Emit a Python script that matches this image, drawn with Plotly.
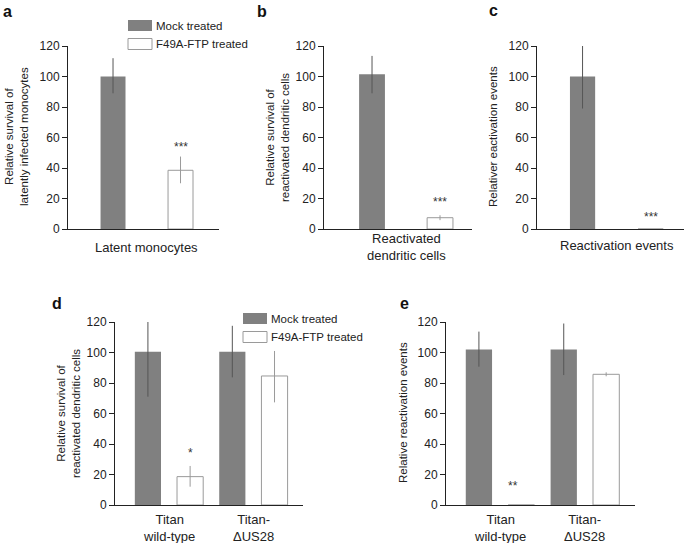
import plotly.graph_objects as go

W, H = 685, 543

series_names = ["Mock treated", "F49A-FTP treated"]

# panel a
cats_a = ["Latent monocytes"]
mock_a = [100]
mock_a_plus = [12]
mock_a_minus = [11]
ftp_a = [38.5]
ftp_a_plus = [9]
ftp_a_minus = [8.5]
sig_a = ["***"]

# panel b
cats_b = ["Reactivated<br>dendritic cells"]
mock_b = [101.5]
mock_b_plus = [12]
mock_b_minus = [12.5]
ftp_b = [7.4]
ftp_b_plus = [1.6]
ftp_b_minus = [1.6]
sig_b = ["***"]

# panel c
cats_c = ["Reactivation events"]
mock_c = [100]
mock_c_plus = [20]
mock_c_minus = [21]
ftp_c = [0]
ftp_c_plus = [0]
ftp_c_minus = [0]
sig_c = ["***"]

# panel d
cats_d = ["Titan<br>wild-type", "Titan-<br>ΔUS28"]
mock_d = [100.5, 100.5]
mock_d_plus = [19.7, 17]
mock_d_minus = [29.5, 16.8]
ftp_d = [18.6, 84.6]
ftp_d_plus = [7, 16.4]
ftp_d_minus = [6.6, 17.3]
sig_d = ["*", ""]

# panel e
cats_e = ["Titan<br>wild-type", "Titan-<br>ΔUS28"]
mock_e = [102, 102]
mock_e_plus = [11.7, 17]
mock_e_minus = [11.3, 16.8]
ftp_e = [0, 85.7]
ftp_e_plus = [0, 1.3]
ftp_e_minus = [0, 1.3]
sig_e = ["**", ""]

y_ticks = [0, 20, 40, 60, 80, 100, 120]

FONT = "Liberation Sans, Arial, Helvetica, sans-serif"
TXT = "#222222"
MOCK_FILL = "#808080"
MOCK_ERR = "#555555"
FTP_LINE = "#9a9a9a"


def px(x):
    return x / W


def py(y):
    return 1 - y / H


fig = go.Figure()

panels = [
    dict(ax="", cats=cats_a, mock=(mock_a, mock_a_plus, mock_a_minus),
         ftp=(ftp_a, ftp_a_plus, ftp_a_minus), sig=sig_a, sig_y=[54],
         xd=(68, 219), yd=(229, 46), xr=(-0.667, 1.57), bw=0.37, step=1, caty=247,
         title="Relative survival of<br>latently infected monocytes", tpos=(16, 137),
         label="a", lpos=(8, 12)),
    dict(ax="2", cats=cats_b, mock=(mock_b, mock_b_plus, mock_b_minus),
         ftp=(ftp_b, ftp_b_plus, ftp_b_minus), sig=sig_b, sig_y=[17.7],
         xd=(324, 472), yd=(229, 46), xr=(-0.706, 1.47), bw=0.38, step=1, caty=246.5,
         title="Relative survival of<br>reactivated dendritic cells", tpos=(277, 138),
         label="b", lpos=(262, 12)),
    dict(ax="3", cats=cats_c, mock=(mock_c, mock_c_plus, mock_c_minus),
         ftp=(ftp_c, ftp_c_plus, ftp_c_minus), sig=sig_c, sig_y=[7.9],
         xd=(537, 684), yd=(229, 46), xr=(-0.669, 1.49), bw=0.37, step=1, caty=246,
         title="Relativer eactivation events", tpos=(493, 137),
         label="c", lpos=(493, 11)),
    dict(ax="4", cats=cats_d, mock=(mock_d, mock_d_plus, mock_d_minus),
         ftp=(ftp_d, ftp_d_plus, ftp_d_minus), sig=sig_d, sig_y=[34, 0],
         xd=(115, 303), yd=(505, 322), xr=(-0.78, 3.675), bw=0.62, step=2, caty=527.5,
         title="Relative survival of<br>reactivated dendritic cells", tpos=(68, 414),
         label="d", lpos=(57, 303)),
    dict(ax="5", cats=cats_e, mock=(mock_e, mock_e_plus, mock_e_minus),
         ftp=(ftp_e, ftp_e_plus, ftp_e_minus), sig=sig_e, sig_y=[12.5, 0],
         xd=(446, 635), yd=(505, 322), xr=(-0.776, 3.68), bw=0.62, step=2, caty=527.5,
         title="Relative reactivation events", tpos=(403, 413),
         label="e", lpos=(404, 303)),
]

layout = dict(width=W, height=H, margin=dict(l=0, r=0, t=0, b=0, autoexpand=False),
              plot_bgcolor="white", paper_bgcolor="white", showlegend=False,
              font=dict(family=FONT, size=12, color=TXT), barmode="overlay")
annotations = []
shapes = []


def note(**kw):
    base = dict(showarrow=False, xanchor="center", yanchor="middle")
    base.update(kw)
    annotations.append(base)


for p in panels:
    a = p["ax"]
    n = len(p["cats"])
    xm = [i * p["step"] for i in range(n)]
    xf = [i * p["step"] + 1 for i in range(n)]
    vals, plus, minus = p["mock"]
    fig.add_trace(go.Bar(x=xm, y=vals, width=p["bw"], name=series_names[0],
                         marker=dict(color=MOCK_FILL, line=dict(width=0)),
                         error_y=dict(type="data", symmetric=False, array=plus,
                                      arrayminus=minus, color=MOCK_ERR,
                                      thickness=1, width=0),
                         xaxis="x" + a, yaxis="y" + a))
    vals, plus, minus = p["ftp"]
    fig.add_trace(go.Bar(x=xf, y=vals, width=p["bw"], name=series_names[1],
                         marker=dict(color="white", line=dict(width=1, color=FTP_LINE)),
                         error_y=dict(type="data", symmetric=False, array=plus,
                                      arrayminus=minus, color=FTP_LINE,
                                      thickness=1, width=0),
                         xaxis="x" + a, yaxis="y" + a))
    for i, s in enumerate(p["sig"]):
        if s:
            note(x=xf[i], y=p["sig_y"][i], xref="x" + a, yref="y" + a, text=s,
                 font=dict(size=12, color="#333333"), xshift=-8 if a == "5" else 0)
    # category labels under each bar pair
    for i, c in enumerate(p["cats"]):
        note(x=xm[i] + 0.5, y=py(p["caty"]), xref="x" + a, yref="paper", text=c,
             font=dict(size=13, color=TXT))
    layout["xaxis" + a] = dict(domain=[px(p["xd"][0]), px(p["xd"][1])], range=list(p["xr"]),
                               anchor="y" + a, showgrid=False, zeroline=False, automargin=False,
                               showline=True, linecolor="#222222", linewidth=1,
                               ticks="", showticklabels=False)
    layout["yaxis" + a] = dict(domain=[py(p["yd"][0]), py(p["yd"][1])], range=[0, 120],
                               anchor="x" + a, showgrid=False, zeroline=False, automargin=False,
                               showline=True, linecolor="#222222", linewidth=1,
                               ticks="outside", ticklen=5, tickcolor="#222222",
                               tickvals=y_ticks, tickfont=dict(size=12, color=TXT))
    note(x=px(p["tpos"][0]), y=py(p["tpos"][1]), xref="paper", yref="paper",
         text=p["title"], textangle=-90, font=dict(size=11.5, color=TXT))
    note(x=px(p["lpos"][0]), y=py(p["lpos"][1]), xref="paper", yref="paper",
         text="<b>" + p["label"] + "</b>", font=dict(size=16, color="#111111"))

# legends drawn as swatches next to panels a and d
for (x0, y0) in [(128, 20), (243, 313)]:
    for k, name in enumerate(series_names):
        top = y0 + k * 18.5
        fill = MOCK_FILL if k == 0 else "white"
        line = dict(width=0) if k == 0 else dict(width=1, color=FTP_LINE)
        shapes.append(dict(type="rect", xref="paper", yref="paper",
                           x0=px(x0), x1=px(x0 + 24), y0=py(top + 11), y1=py(top),
                           fillcolor=fill, line=line))
        note(x=px(x0 + 26), y=py(top + 5.5), xref="paper", yref="paper",
             text=name, xanchor="left", font=dict(size=11.5, color=TXT))

layout["annotations"] = annotations
layout["shapes"] = shapes
fig.update_layout(**layout)

# drop the default 8px body margin so the figure fills the window exactly
fig.write_html("out.html", config={"displayModeBar": False},
               post_script="document.body.style.margin = '0px';")
